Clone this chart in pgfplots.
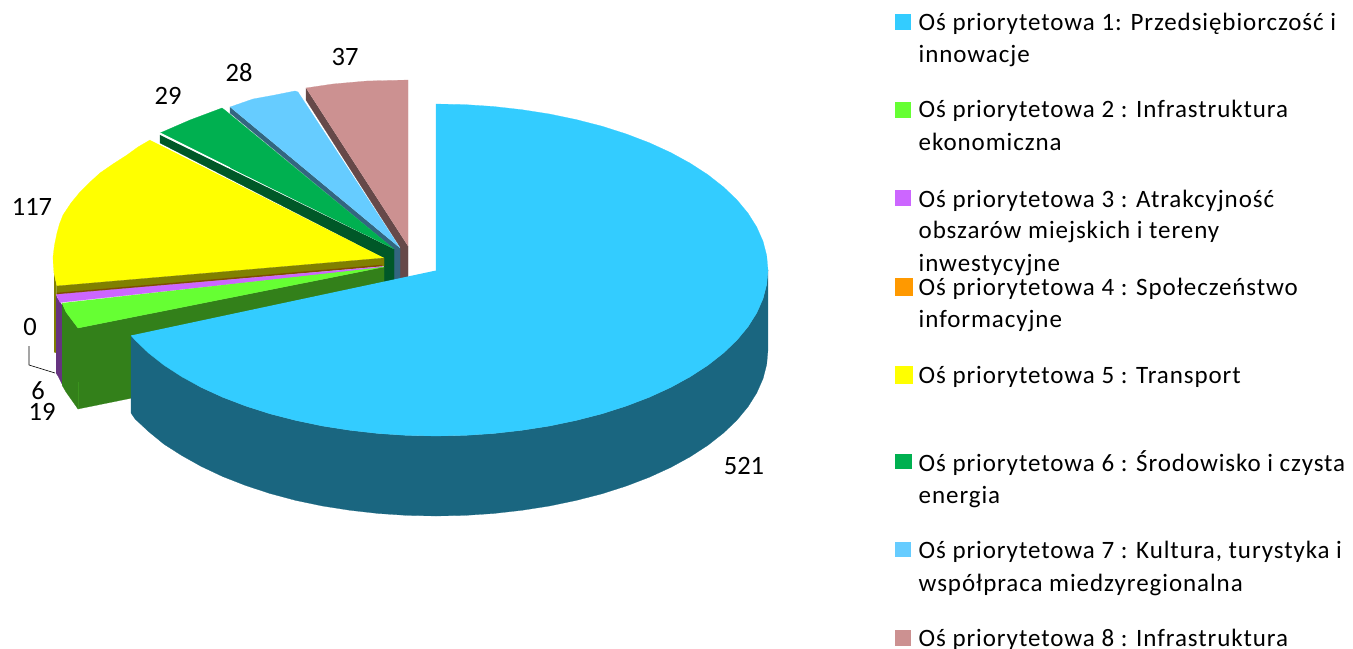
\documentclass[border=0pt]{standalone}
\usepackage{pgfplots}
\pgfplotsset{compat=1.18}
\usepackage{fontspec}
\setmainfont{Carlito}
\newfontfamily\lgd[LetterSpace=3.7]{Carlito}
\definecolor{cA}{HTML}{33CCFF}\definecolor{cAs}{HTML}{1A6680}
\definecolor{cB}{HTML}{66FF33}\definecolor{cBs}{HTML}{33801A}
\definecolor{cC}{HTML}{CC66FF}\definecolor{cCs}{HTML}{663380}
\definecolor{cD}{HTML}{FF9900}\definecolor{cDs}{HTML}{804D00}
\definecolor{cE}{HTML}{FFFF00}\definecolor{cEs}{HTML}{808000}
\definecolor{cF}{HTML}{00B050}\definecolor{cFs}{HTML}{005828}
\definecolor{cG}{HTML}{66CCFF}\definecolor{cGs}{HTML}{336680}
\definecolor{cH}{HTML}{CC9191}\definecolor{cHs}{HTML}{664949}
\newcommand{\poly}[2]{\addplot[fill=#1,draw=#1,line width=0.2pt,mark=none] coordinates {#2};}
\newcommand{\lt}[3]{\node[anchor=base west,inner sep=0pt,text=black] at (axis cs:#1,#2) {\lgd\fontsize{25bp}{25bp}\selectfont #3};}
\newcommand{\vl}[3]{\node[anchor=center,inner sep=0pt] at (axis cs:#1,#2) {\fontsize{26.5bp}{26.5bp}\selectfont #3};}
\begin{document}
\begin{tikzpicture}
\path[use as bounding box] (0,0) rectangle (1353bp,649bp);
\begin{axis}[at={(0,0)},anchor=south west,width=1353bp,height=649bp,scale only axis,
  xmin=0,xmax=1353,ymin=0,ymax=649,y dir=reverse,hide axis,clip=false]
% wedge 8
\poly{cHs}{(306,88)(306,100)(400,247)(400,285)(408,285)(408,246)}
\poly{cH}{(306,88)(333,84)(367,81)(408,80)(408,246)}
% wedge 7
\poly{cGs}{(230,107)(230,113)(394,249)(394,285)(400,285)(400,248)}
\poly{cG}{(230,107)(253,99)(275,95)(295,91)(298,92)(400,248)}
% wedge 6
\poly{cFs}{(160,135)(160,143)(384,258)(384,285)(394,285)(394,249)}
\poly{cF}{(160,133)(190,120)(222,108)(226,111)(394,249)}
\addplot[white,line width=1pt,mark=none] coordinates {(160,133)(230,168)};
% wedge 5
\poly{cEs}{(54,272)(56.5,285)(56.5,353)(54,352)}
\poly{cE}{(150,140)(138,147)(127,155)(113,164)(100,173)(89,183)(80,192)(71,203)(63,215)(59.5,224)(57,233)(54.5,245)(53,257)(53.3,265)(54,273)(57,286)(384,258)}
\poly{cEs}{(57,286)(384,258)(384,266)(57,295)}
% wedge 4 (zero)
\addplot[cDs,line width=1.5pt,mark=none] coordinates {(57,293.5)(382,265.5)};
% wedge 3
\poly{cCs}{(56,296)(60,302)(62,305)(62,384)(58,376)(56,373)}
\poly{cC}{(56,294.5)(383,266.5)(383,268)(60,302.5)}
% wedge 2
\poly{cBs}{(78,328)(384,267)(384,347)(78,409)}
\poly{cBs}{(62,303)(66,312)(78,328)(78,409)(66,392)(62,385)}
\addplot[cB!15!cBs,line width=0.5pt,mark=none] coordinates {(78,382)(78,409)};
\poly{cB}{(62,303)(66,312)(78,328)(384,267)}
% wedge 1
\poly{cAs}{(768,270)(766.7,284.5)(763,298.8)(756.7,313)(748,326.8)(736.9,340.2)(723.5,353)(708,365.2)(690.3,376.7)(670.8,387.4)(649.4,397.2)(626.4,406)(602,413.8)(576.3,420.4)(549.5,426)(521.9,430.3)(493.6,433.5)(464.9,435.4)(436,436)(407.1,435.4)(378.4,433.5)(350.1,430.3)(322.5,426)(295.7,420.4)(270,413.8)(245.6,406)(222.6,397.2)(201.2,387.4)(181.7,376.7)(164,365.2)(148.5,353)(135.1,340.2)(131,335.5)
(131,413)(135.1,419)(148.5,431.5)(164,444.2)(181.7,455.5)(201.2,466.4)(222.6,476.5)(245.6,485.5)(270,493.5)(295.7,500.4)(322.5,506)(350.1,510.3)(378.4,513.5)(407.1,515.4)(436,516)(464.9,515.4)(493.6,513.5)(521.9,510.3)(549.5,506)(576.3,500.4)(602,493.8)(626.4,486)(649.4,477.2)(670.8,467.4)(690.3,456.7)(708,445.2)(723.5,433)(736.9,420.2)(748,406.8)(756.7,393)(763,378.8)(766.7,364.5)(768,350)}
\poly{cA}{(436,270.5)(436,104)(464.9,104.6)(493.6,106.5)(521.9,109.7)(549.5,114)(576.3,119.6)(602,126.2)(626.4,134)(649.4,142.8)(670.8,152.6)(690.3,163.3)(708,174.8)(723.5,187)(736.9,199.8)(748,213.2)(756.7,227)(763,241.2)(766.7,255.5)(768,270)(766.7,284.5)(763,298.8)(756.7,313)(748,326.8)(736.9,340.2)(723.5,353)(708,365.2)(690.3,376.7)(670.8,387.4)(649.4,397.2)(626.4,406)(602,413.8)(576.3,420.4)(549.5,426)(521.9,430.3)(493.6,433.5)(464.9,435.4)(436,436)(407.1,435.4)(378.4,433.5)(350.1,430.3)(322.5,426)(295.7,420.4)(270,413.8)(245.6,406)(222.6,397.2)(201.2,387.4)(181.7,376.7)(164,365.2)(148.5,353)(135.1,340.2)(131,335.5)}
% leader
\addplot[black,line width=0.6pt,mark=none] coordinates {(29,346)(29,365)(55,373)};
% value labels
\vl{744}{466}{521}\vl{32}{207}{117}\vl{168}{96}{29}\vl{239}{73}{28}\vl{345}{57}{37}
\vl{30}{327}{0}\vl{38}{391}{6}\vl{42}{412}{19}
% legend keys
\poly{cA}{(895,14)(910,14)(910,29)(895,29)}
\poly{cB}{(895,102)(910,102)(910,117)(895,117)}
\poly{cC}{(895,190)(910,190)(910,205)(895,205)}
\poly{cD}{(895,278)(912,278)(912,295)(895,295)}
\poly{cE}{(895,366)(912,366)(912,383)(895,383)}
\poly{cF}{(895,454)(911,454)(911,468)(895,468)}
\poly{cG}{(895,542)(910,542)(910,556)(895,556)}
\poly{cH}{(895,630)(910,630)(910,645)(895,645)}
% legend text
\lt{918.5}{31}{Oś priorytetowa 1: Przedsiębiorczość i}
\lt{918.5}{63}{innowacje}
\lt{918.5}{118}{Oś priorytetowa 2 : Infrastruktura}
\lt{918.5}{151}{ekonomiczna}
\lt{918.5}{207}{Oś priorytetowa 3 : Atrakcyjność}
\lt{918.5}{238}{obszarów miejskich i tereny}
\lt{918.5}{271}{inwestycyjne}
\lt{918.5}{295}{Oś priorytetowa 4 : Społeczeństwo}
\lt{918.5}{327}{informacyjne}
\lt{918.5}{383}{Oś priorytetowa 5 : Transport}
\lt{918.5}{471}{Oś priorytetowa 6 : Środowisko i czysta}
\lt{918.5}{503}{energia}
\lt{918.5}{558}{Oś priorytetowa 7 : Kultura, turystyka i}
\lt{918.5}{591}{współpraca miedzyregionalna}
\lt{918.5}{646}{Oś priorytetowa 8 : Infrastruktura}
\end{axis}
\end{tikzpicture}
\end{document}
